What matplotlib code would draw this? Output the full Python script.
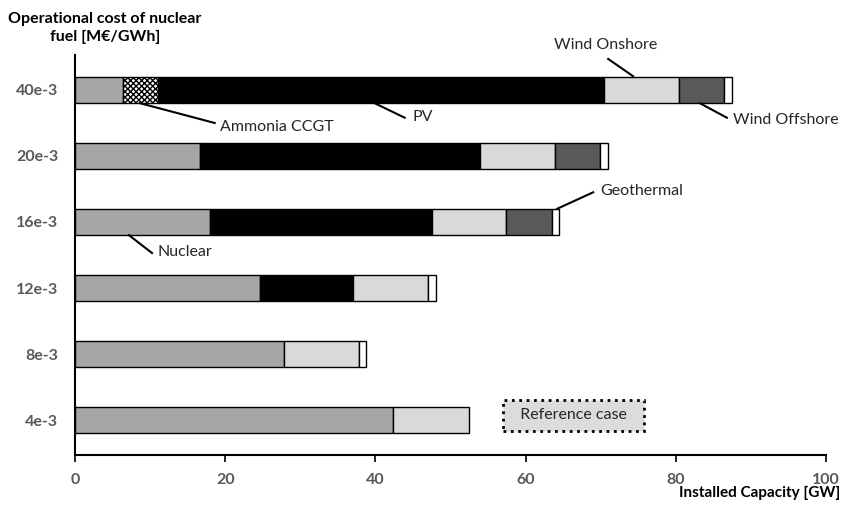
import matplotlib
matplotlib.use("Agg")
import matplotlib.pyplot as plt
import numpy as np

plt.rcParams['font.family'] = ['Lato', 'DejaVu Sans']
plt.rcParams['hatch.linewidth'] = 1.0

# data (GW)
categories = ['4e-3', '8e-3', '12e-3', '16e-3', '20e-3', '40e-3']
nuclear = [42.4, 27.8, 24.6, 18.0, 16.7, 6.4]
ammonia = [0, 0, 0, 0, 0, 4.7]
pv = [0, 0, 12.4, 29.5, 37.2, 59.4]
onshore = [10.0, 10.0, 10.0, 9.9, 10.0, 9.9]
offshore = [0, 0, 0, 6.1, 6.0, 6.0]
geothermal = [0, 1.0, 1.1, 1.0, 1.1, 1.1]

series = [
    ('Nuclear', nuclear, '#a6a6a6', None),
    ('Ammonia CCGT', ammonia, 'white', 'xxxxxx'),
    ('PV', pv, 'black', None),
    ('Wind Onshore', onshore, '#d9d9d9', None),
    ('Wind Offshore', offshore, '#595959', None),
    ('Geothermal', geothermal, 'white', None),
]

fig = plt.figure(figsize=(8.45, 5.05), dpi=100)
ax = fig.add_axes([75 / 845, 1 - 455 / 505, 751 / 845, 400 / 505])

y = np.arange(len(categories))
left = np.zeros(len(categories))
for name, vals, col, hatch in series:
    vals = np.array(vals, dtype=float)
    mask = vals > 0
    ax.barh(y[mask], vals[mask], left=left[mask], height=0.4, color=col,
            edgecolor='black', linewidth=1.0, hatch=hatch)
    left += vals

ax.set_xlim(0, 100)
ax.set_ylim(-0.53, 5.53)
ax.set_xticks([0, 20, 40, 60, 80, 100])
ax.set_yticks(y)
ax.set_yticklabels(categories)
ax.tick_params(axis='y', length=0, pad=12, labelsize=11.5, labelcolor='#595959')
ax.tick_params(axis='x', length=5, width=1.2, pad=8, labelsize=11.5, labelcolor='#595959')
for lab in ax.get_xticklabels() + ax.get_yticklabels():
    lab.set_fontweight('bold')
for s in ['top', 'right']:
    ax.spines[s].set_visible(False)
for s in ['left', 'bottom']:
    ax.spines[s].set_linewidth(1.5)

# leader lines + labels
notes = [
    ('Wind Onshore', (74.3, 5.21), (71.0, 5.47), (70.7, 5.68), 'center'),
    ('Wind Offshore', (83.2, 4.80), (86.8, 4.58), (87.6, 4.55), 'left'),
    ('PV', (39.9, 4.80), (43.9, 4.58), (45.0, 4.59), 'left'),
    ('Ammonia CCGT', (8.66, 4.80), (18.6, 4.50), (19.3, 4.44), 'left'),
    ('Nuclear', (7.19, 2.80), (10.25, 2.53), (11.05, 2.55), 'left'),
    ('Geothermal', (64.2, 3.20), (69.0, 3.45), (69.9, 3.47), 'left'),
]
for txt, p0, p1, pt, ha in notes:
    ax.plot([p0[0], p1[0]], [p0[1], p1[1]], color='black', lw=1.5, clip_on=False)
    ax.text(pt[0], pt[1], txt, ha=ha, va='center', fontsize=11.5, color='#262626')

ax.text(66.4, 0.07, '  Reference case  ', ha='center', va='center', fontsize=11.5,
        color='#262626',
        bbox=dict(boxstyle='square,pad=0.55', facecolor='#dcdcdc',
                  edgecolor='black', linestyle=':', linewidth=2))

fig.text(105 / 845, 1 - 28 / 505, 'Operational cost of nuclear\nfuel [M€/GWh]',
         ha='center', va='center', fontsize=11.5, fontweight='bold',
         multialignment='center', linespacing=1.3)
fig.text(840 / 845, 1 - 493 / 505, 'Installed Capacity [GW]', ha='right',
         va='center', fontsize=11, fontweight='bold')

fig.savefig('out.png', dpi=100)
